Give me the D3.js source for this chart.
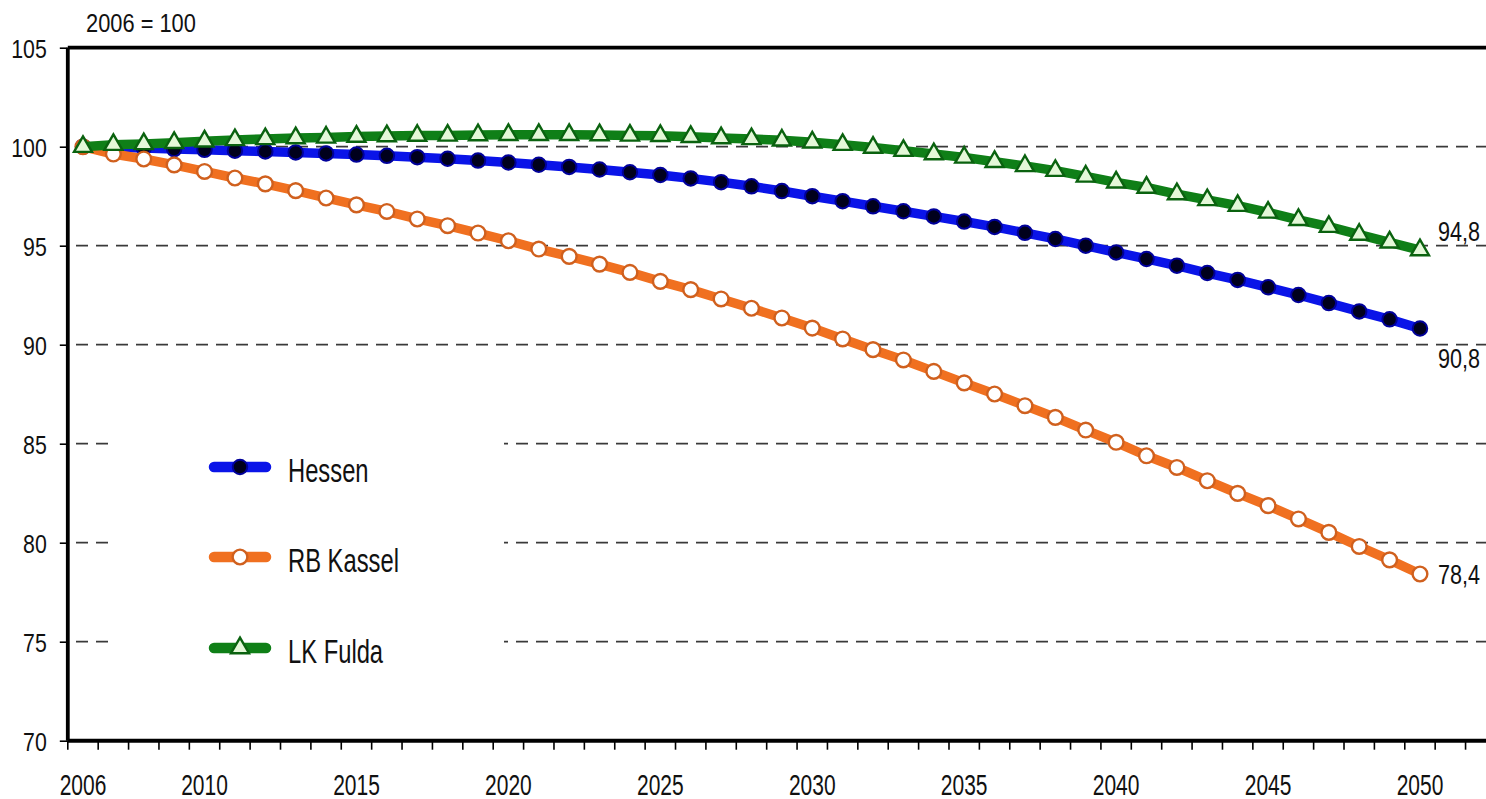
<!DOCTYPE html>
<html>
<head>
<meta charset="utf-8">
<script src="https://cdn.jsdelivr.net/npm/d3@7"></script>
<style>
  html, body { margin: 0; padding: 0; background: #fff; }
  svg { display: block; font-family: "Liberation Sans", Arial, sans-serif; }
</style>
</head>
<body>
<svg id="chart" width="1486" height="799"></svg>
<script>
// ---- data ----
const years = d3.range(2006, 2051);
const axisYears = d3.range(2006, 2053);           // category slots on the x axis
const xTickLabels = [2006, 2010, 2015, 2020, 2025, 2030, 2035, 2040, 2045, 2050];
const yTicks = [70, 75, 80, 85, 90, 95, 100, 105];
const gridValues = [75, 80, 85, 90, 95, 100];
const seriesNames = ["Hessen", "RB Kassel", "LK Fulda"];

const hessen = [100.0, 99.97, 99.94, 99.88, 99.84, 99.8, 99.76, 99.71, 99.66, 99.6,
  99.54, 99.47, 99.39, 99.3, 99.2, 99.09, 98.98, 98.85, 98.71, 98.57,
  98.4, 98.21, 98.0, 97.76, 97.5, 97.25, 96.99, 96.74, 96.48, 96.22,
  95.95, 95.65, 95.34, 95.0, 94.66, 94.33, 93.99, 93.62, 93.27, 92.9,
  92.51, 92.1, 91.68, 91.28, 90.82];
const rbKassel = [100.0, 99.63, 99.38, 99.08, 98.75, 98.42, 98.12, 97.78, 97.41, 97.06,
  96.73, 96.35, 96.01, 95.64, 95.25, 94.83, 94.46, 94.07, 93.65, 93.2,
  92.78, 92.31, 91.84, 91.35, 90.84, 90.29, 89.75, 89.23, 88.65, 88.07,
  87.51, 86.92, 86.33, 85.69, 85.07, 84.39, 83.8, 83.13, 82.49, 81.87,
  81.2, 80.52, 79.81, 79.13, 78.42];
const lkFulda = [100.0, 100.1, 100.14, 100.2, 100.27, 100.34, 100.39, 100.44, 100.47, 100.51,
  100.54, 100.56, 100.57, 100.59, 100.6, 100.6, 100.6, 100.59, 100.57, 100.55,
  100.5, 100.44, 100.39, 100.32, 100.22, 100.1, 99.96, 99.8, 99.63, 99.46,
  99.24, 99.03, 98.79, 98.5, 98.2, 97.94, 97.61, 97.31, 97.02, 96.68,
  96.31, 95.96, 95.56, 95.17, 94.78];
const endLabels = ["90,8", "78,4", "94,8"];

// ---- styles ----
const styles = [
  { line: "#0a14e8", symbol: d3.symbolCircle, size: 165, fill: "#00001c", stroke: "#00009a", sw: 2, labelDy: 40 },
  { line: "#f07020", symbol: d3.symbolCircle, size: 170, fill: "#ffffff", stroke: "#d0601e", sw: 2.4, labelDy: 10 },
  { line: "#0f7f17", symbol: d3.symbolTriangle, size: 140, fill: "#e4f8d8", stroke: "#0a620f", sw: 2.4, labelDy: -9 }
];
const seriesValues = [hessen, rbKassel, lkFulda];
const series = seriesNames.map((name, i) => ({
  name, style: styles[i], label: endLabels[i],
  values: years.map((yr, j) => ({ year: yr, value: seriesValues[i][j] }))
}));

const svg = d3.select("#chart");
const left = 67.8, step = 30.386;
const x = d3.scaleBand().domain(axisYears).range([left, left + step * axisYears.length]).padding(0);
const y = d3.scaleLinear().domain([70, 105]).range([740.7, 47.7]);
const cx = yr => x(yr) + x.bandwidth() / 2;

// gridlines
svg.append("g").selectAll("line").data(gridValues).join("line")
  .attr("x1", 76).attr("x2", 1486)
  .attr("y1", d => y(d)).attr("y2", d => y(d))
  .attr("stroke", "#3a3a3a").attr("stroke-width", 1.7)
  .attr("stroke-dasharray", "12,8");

// top frame line
svg.append("line").attr("x1", left).attr("x2", 1486)
  .attr("y1", y(105)).attr("y2", y(105))
  .attr("stroke", "#000").attr("stroke-width", 3.8);

// y axis
const yAxis = svg.append("g").attr("transform", `translate(${left},0)`)
  .call(d3.axisLeft(y).tickValues(yTicks).tickSize(8).tickPadding(0).tickFormat(d3.format("d")));
yAxis.select(".domain").attr("stroke", "#000").attr("stroke-width", 3.8).attr("d", `M0,${y(105)}V${y(70)}`);
yAxis.selectAll(".tick line").attr("stroke", "#000").attr("stroke-width", 1.6);
const ySx = 0.82;
yAxis.selectAll(".tick text")
  .attr("x", -21 / ySx).attr("dy", null).attr("y", 9.5)
  .attr("transform", `scale(${ySx},1)`)
  .attr("font-size", 26).attr("fill", "#111")
  .attr("font-family", "'Liberation Sans', Arial, sans-serif");

// x axis
const xAxisY = y(70);
svg.append("line").attr("x1", left).attr("x2", 1486).attr("y1", xAxisY).attr("y2", xAxisY)
  .attr("stroke", "#000").attr("stroke-width", 4);
svg.append("g").selectAll("line").data(axisYears).join("line")
  .attr("x1", d => x(d)).attr("x2", d => x(d))
  .attr("y1", xAxisY).attr("y2", xAxisY + 9)
  .attr("stroke", "#000").attr("stroke-width", 1.6);
const xAxis = svg.append("g").attr("transform", `translate(0,${xAxisY})`)
  .call(d3.axisBottom(x).tickValues(xTickLabels).tickSize(0).tickFormat(d3.format("d")));
xAxis.select(".domain").remove();
const xSx = 0.70;
xAxis.selectAll(".tick text")
  .attr("y", 54).attr("dy", null)
  .attr("transform", `scale(${xSx},1)`)
  .attr("font-size", 30).attr("fill", "#111")
  .attr("font-family", "'Liberation Sans', Arial, sans-serif");

// title
svg.append("text").attr("transform", "translate(86,31.7) scale(0.84,1)")
  .attr("font-size", 26).attr("fill", "#111").text("2006 = 100");

// series
const line = d3.line().x(d => cx(d.year)).y(d => y(d.value));
series.forEach(s => {
  const g = svg.append("g");
  g.append("path").datum(s.values).attr("d", line)
    .attr("fill", "none").attr("stroke", s.style.line).attr("stroke-width", 9.5)
    .attr("stroke-linejoin", "round").attr("stroke-linecap", "round");
  g.selectAll("path.m").data(s.values).join("path").attr("class", "m")
    .attr("d", d3.symbol().type(s.style.symbol).size(s.style.size))
    .attr("transform", d => `translate(${cx(d.year)},${y(d.value)})`)
    .attr("fill", s.style.fill).attr("stroke", s.style.stroke).attr("stroke-width", s.style.sw);
  const last = s.values[s.values.length - 1];
  svg.append("text")
    .attr("transform", `translate(${cx(last.year) + 18},${y(last.value) + s.style.labelDy}) scale(0.8,1)`)
    .attr("font-size", 27).attr("fill", "#111").text(s.label);
});

// legend
const legend = svg.append("g");
legend.append("rect").attr("x", 111).attr("y", 405).attr("width", 393).attr("height", 285).attr("fill", "#fff");
const legendY = [467, 557, 648];
series.forEach((s, i) => {
  const ly = legendY[i];
  legend.append("line").attr("x1", 214).attr("x2", 266).attr("y1", ly).attr("y2", ly)
    .attr("stroke", s.style.line).attr("stroke-width", 10.5).attr("stroke-linecap", "round");
  legend.append("path").attr("d", d3.symbol().type(s.style.symbol).size(s.style.size))
    .attr("transform", `translate(240,${ly})`)
    .attr("fill", s.style.fill).attr("stroke", s.style.stroke).attr("stroke-width", s.style.sw);
  legend.append("text").attr("transform", `translate(288,${ly + 14.5}) scale(0.72,1)`)
    .attr("font-size", 33).attr("fill", "#111").text(s.name);
});
</script>
</body>
</html>
